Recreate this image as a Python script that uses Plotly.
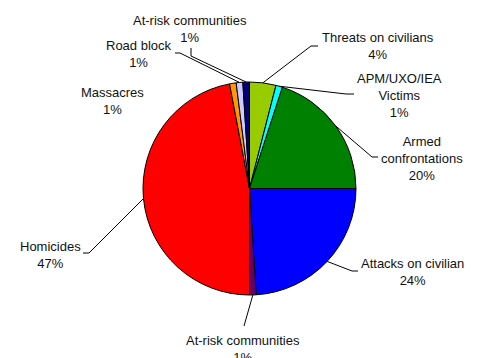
import math
import plotly.graph_objects as go

# ---- data ----
categories = ["Threats on civilians", "APM/UXO/IEA<br>Victims", "Armed<br>confrontations",
              "Attacks on civilian", "At-risk communities", "Homicides", "Massacres",
              "Road block", "At-risk communities"]
values = [4, 1, 20, 24, 1, 47, 1, 1, 1]
colors = ["#99cc00", "#00ffff", "#008000", "#0000ff", "#660066", "#ff0000", "#ff9900",
          "#ccccff", "#000080"]

# ---- layout (pixels) ----
W, H = 477, 358
CX, CY, R = 249.5, 188.5, 106.5
label_pos = [(378, 45.5), (399.5, 95), (422, 159), (412.5, 271.5), (243, 348.5),
             (50, 254.5), (112.5, 100.5), (139, 53.5), (190, 29)]
leader_pts = [[(311, 46), (318, 46)], [(346, 94), (354, 94)], [(372, 157), (378, 157)],
              [(352, 271), (358, 271)], [(244, 326)], [(89, 253), (83, 253)], None,
              [(180, 53), (175, 53)], [(191, 56), (191, 48)]]


def px(x):
    return x / W


def py(y):
    return 1 - y / H


total = sum(values)
fig = go.Figure(go.Pie(
    labels=[str(i) for i in range(len(values))],
    values=values,
    sort=False,
    direction="clockwise",
    rotation=0,
    marker=dict(colors=colors, line=dict(color="black", width=1)),
    textinfo="none",
    hoverinfo="skip",
    showlegend=False,
    domain=dict(x=[px(CX - R), px(CX + R)], y=[py(CY + R), py(CY - R)]),
))

shapes = []
annotations = []
cum = 0
for name, v, pos, pts in zip(categories, values, label_pos, leader_pts):
    frac = (cum + v / 2) / total
    cum += v
    th = 2 * math.pi * frac
    sx = CX + R * math.sin(th)
    sy = CY - R * math.cos(th)
    pct = round(100 * v / total)
    annotations.append(dict(
        x=px(pos[0]), y=py(pos[1]), xref="paper", yref="paper",
        text=f"{name}<br>{pct}%", showarrow=False, xanchor="center", yanchor="middle",
        font=dict(family="Arial, Liberation Sans, sans-serif", size=13, color="#111"),
    ))
    if pts:
        path = f"M {px(sx)},{py(sy)} " + " ".join(f"L {px(a)},{py(b)}" for a, b in pts)
        shapes.append(dict(type="path", path=path, xref="paper", yref="paper",
                           line=dict(color="black", width=1)))

fig.update_layout(
    width=W, height=H,
    margin=dict(l=0, r=0, t=0, b=0),
    paper_bgcolor="white", plot_bgcolor="white",
    shapes=shapes, annotations=annotations,
)
fig.write_html("out.html")
